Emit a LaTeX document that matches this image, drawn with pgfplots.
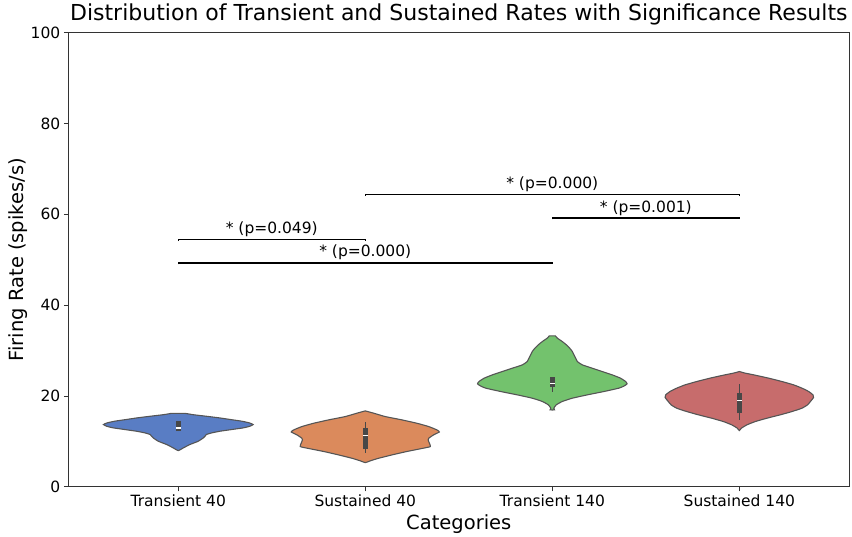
\documentclass[border=0pt]{standalone}
\usepackage{pgfplots}
\pgfplotsset{compat=1.18}
\usepackage{fontspec}
\setmainfont{DejaVu Sans}
\definecolor{cblue}{HTML}{597DC4}
\definecolor{corange}{HTML}{DB8A5C}
\definecolor{cgreen}{HTML}{73C26D}
\definecolor{cred}{HTML}{C76C6C}
\definecolor{edge}{HTML}{555555}
\definecolor{boxc}{HTML}{474747}
\pgfplotsset{
  violin/.style={draw=edge, line width=1.1pt, smooth, tension=0.3},
  whisk/.style={boxc, line width=1.5pt},
  boxs/.style={boxc, line width=5.5pt},
  med/.style={only marks, mark=-, mark size=2.6pt, mark options={white, line width=1.3pt}},
  brk/.style={black, line width=1.2pt},
}
\begin{document}
\begin{tikzpicture}
\path (-68.3pt,-48.3pt) rectangle (783.7pt,486.7pt);
\begin{axis}[
  scale only axis, width=781pt, height=454.4pt,
  xmin=-0.588, xmax=3.588, ymin=0, ymax=100,
  xtick={0,1,2,3},
  xticklabels={Transient 40, Sustained 40, Transient 140, Sustained 140},
  ytick={0,20,40,60,80,100},
  tick pos=left,
  tick align=outside, major tick length=4.5pt,
  tick style={black!80, line width=0.9pt},
  axis line style={black!80, line width=0.9pt},
  tick label style={font=\fontsize{15.5}{18}\selectfont},
  /pgf/number format/assume math mode=true,
  title={Distribution of Transient and Sustained Rates with Significance Results},
  title style={font=\fontsize{22}{26}\selectfont, at={(axis description cs:0.5,1)}, anchor=base, yshift=6.5pt},
  xlabel={Categories},
  xlabel style={font=\fontsize{19.5}{23}\selectfont, at={(axis description cs:0.5,0)}, anchor=base, yshift=-42.3pt},
  ylabel={Firing Rate (spikes/s)},
  ylabel style={font=\fontsize{19.5}{23}\selectfont, at={(axis description cs:-0.0576,0.5)}, anchor=base},
]
% Transient 40
\addplot[violin, fill=cblue] table[x expr=0+\thisrow{s}*\thisrow{w}, y=y] {
y w s
16.2 0.036 -1
15.9 0.08 -1
15.56 0.15 -1
15.2 0.22 -1
14.8 0.285 -1
14.47 0.34 -1
14.1 0.38 -1
13.73 0.40 -1
13.36 0.383 -1
13.0 0.348 -1
12.63 0.285 -1
12.26 0.223 -1
11.89 0.178 -1
11.53 0.15 -1
11.16 0.143 -1
10.79 0.134 -1
10.06 0.107 -1
9.33 0.062 -1
8.59 0.027 -1
8.0 0.0 1
8.59 0.027 1
9.33 0.062 1
10.06 0.107 1
10.79 0.134 1
11.16 0.143 1
11.53 0.15 1
11.89 0.178 1
12.26 0.223 1
12.63 0.285 1
13.0 0.348 1
13.36 0.383 1
13.73 0.40 1
14.1 0.38 1
14.47 0.34 1
14.8 0.285 1
15.2 0.22 1
15.56 0.15 1
15.9 0.08 1
16.2 0.036 1
} -- cycle;
% Sustained 40
\addplot[violin, fill=corange] table[x expr=1+\thisrow{s}*\thisrow{w}, y=y] {
y w s
16.74 0.0 -1
16.23 0.045 -1
15.49 0.107 -1
14.76 0.196 -1
14.02 0.276 -1
13.29 0.339 -1
12.55 0.383 -1
12.1 0.396 -1
11.45 0.365 -1
10.72 0.339 -1
10.35 0.336 -1
9.7 0.342 -1
8.89 0.348 -1
8.52 0.31 -1
7.78 0.22 -1
7.05 0.143 -1
6.31 0.071 -1
5.75 0.027 -1
5.35 0.0 1
5.75 0.027 1
6.31 0.071 1
7.05 0.143 1
7.78 0.22 1
8.52 0.31 1
8.89 0.348 1
9.7 0.342 1
10.35 0.336 1
10.72 0.339 1
11.45 0.365 1
12.1 0.396 1
12.55 0.383 1
13.29 0.339 1
14.02 0.276 1
14.76 0.196 1
15.49 0.107 1
16.23 0.045 1
16.74 0.0 1
} -- cycle;
% Transient 140
\addplot[violin, fill=cgreen] table[x expr=2+\thisrow{s}*\thisrow{w}, y=y] {
y w s
33.26 0.016 -1
32.75 0.027 -1
32.01 0.053 -1
31.28 0.075 -1
30.54 0.093 -1
29.81 0.107 -1
29.07 0.116 -1
28.34 0.125 -1
27.6 0.134 -1
26.87 0.16 -1
26.13 0.214 -1
25.4 0.267 -1
24.67 0.32 -1
23.93 0.365 -1
23.2 0.392 -1
22.69 0.40 -1
22.2 0.383 -1
21.74 0.356 -1
21.0 0.276 -1
20.26 0.187 -1
19.53 0.107 -1
18.8 0.053 -1
18.06 0.021 -1
17.33 0.008 -1
16.96 0.012 -1
16.96 0.012 1
17.33 0.008 1
18.06 0.021 1
18.8 0.053 1
19.53 0.107 1
20.26 0.187 1
21.0 0.276 1
21.74 0.356 1
22.2 0.383 1
22.69 0.40 1
23.2 0.392 1
23.93 0.365 1
24.67 0.32 1
25.4 0.267 1
26.13 0.214 1
26.87 0.16 1
27.6 0.134 1
28.34 0.125 1
29.07 0.116 1
29.81 0.107 1
30.54 0.093 1
31.28 0.075 1
32.01 0.053 1
32.75 0.027 1
33.26 0.016 1
} -- cycle;
% Sustained 140
\addplot[violin, fill=cred] table[x expr=3+\thisrow{s}*\thisrow{w}, y=y] {
y w s
25.4 0.0 -1
25.04 0.032 -1
24.67 0.077 -1
23.94 0.157 -1
23.2 0.228 -1
22.47 0.29 -1
21.74 0.335 -1
21.0 0.371 -1
20.26 0.394 -1
19.68 0.397 -1
18.8 0.38 -1
18.07 0.365 -1
17.33 0.335 -1
16.6 0.282 -1
15.87 0.219 -1
15.13 0.148 -1
14.4 0.086 -1
13.67 0.041 -1
12.93 0.011 -1
12.4 0.0 1
12.93 0.011 1
13.67 0.041 1
14.4 0.086 1
15.13 0.148 1
15.87 0.219 1
16.6 0.282 1
17.33 0.335 1
18.07 0.365 1
18.8 0.38 1
19.68 0.397 1
20.26 0.394 1
21.0 0.371 1
21.74 0.335 1
22.47 0.29 1
23.2 0.228 1
23.94 0.157 1
24.67 0.077 1
25.04 0.032 1
25.4 0.0 1
} -- cycle;
% inner boxes
\addplot[whisk] coordinates {(0,12.26) (0,14.6)};
\addplot[boxs] coordinates {(0,12.26) (0,14.6)};
\addplot[med] coordinates {(0,13.0)};
\addplot[whisk] coordinates {(1,7.5) (1,14.4)};
\addplot[boxs] coordinates {(1,8.3) (1,12.9)};
\addplot[med] coordinates {(1,11.3)};
\addplot[whisk] coordinates {(2,21.0) (2,24.3)};
\addplot[boxs] coordinates {(2,22.0) (2,24.3)};
\addplot[med] coordinates {(2,22.7)};
\addplot[whisk] coordinates {(3,14.8) (3,22.7)};
\addplot[boxs] coordinates {(3,16.2) (3,20.6)};
\addplot[med] coordinates {(3,19.1)};
% significance brackets
\addplot[brk] coordinates {(0,49.0) (0,49.3) (2,49.3) (2,49.0)};
\addplot[brk] coordinates {(0,54.1) (0,54.4) (1,54.4) (1,54.1)};
\addplot[brk] coordinates {(2,58.9) (2,59.2) (3,59.2) (3,58.9)};
\addplot[brk] coordinates {(1,64.1) (1,64.4) (3,64.4) (3,64.1)};
\node[anchor=south, inner sep=0pt, yshift=2.5pt, font=\fontsize{15.5}{18}\selectfont] at (axis cs:1,49.3) {* (p=0.000)};
\node[anchor=south, inner sep=0pt, yshift=2.5pt, font=\fontsize{15.5}{18}\selectfont] at (axis cs:0.5,54.4) {* (p=0.049)};
\node[anchor=south, inner sep=0pt, yshift=2.5pt, font=\fontsize{15.5}{18}\selectfont] at (axis cs:2.5,59.2) {* (p=0.001)};
\node[anchor=south, inner sep=0pt, yshift=2.5pt, font=\fontsize{15.5}{18}\selectfont] at (axis cs:2,64.4) {* (p=0.000)};
\end{axis}
\end{tikzpicture}
\end{document}
